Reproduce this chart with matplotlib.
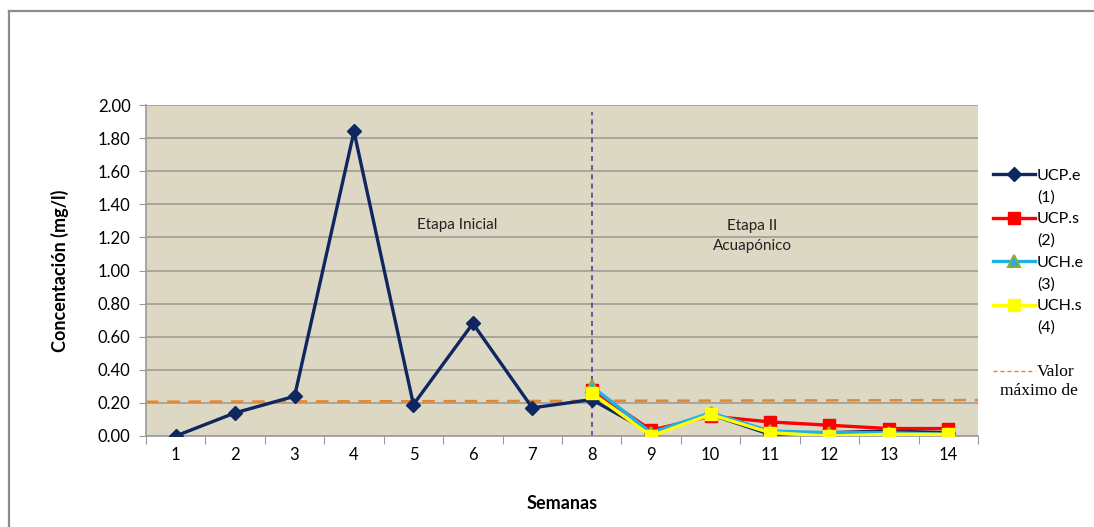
import numpy as np
import matplotlib.pyplot as plt
from matplotlib.lines import Line2D

plt.rcParams['font.family'] = ['Lato', 'DejaVu Sans']

semanas = list(range(1, 15))
ucp_e = [0.00, 0.14, 0.24, 1.84, 0.19, 0.68, 0.17, 0.22, 0.02, 0.13, 0.01, 0.02, 0.03, 0.02]
ucp_s = [None] * 7 + [0.28, 0.035, 0.12, 0.085, 0.065, 0.045, 0.045]
uch_e = [None] * 7 + [0.30, 0.02, 0.14, 0.03, 0.02, 0.02, 0.01]
uch_s = [None] * 7 + [0.26, 0.00, 0.13, 0.02, 0.00, 0.01, 0.01]
valor_max = [0.207, 0.217]
cambio_etapa = 8

fig = plt.figure(figsize=(10.94, 5.27), dpi=100)
ax = fig.add_axes([146 / 1094, 1 - 436 / 527, 832 / 1094, 331 / 527])
ax.set_facecolor('#ddd8c4')

# marco del grafico (solo borde superior e izquierdo a la vista)
x0, y0 = 8.5 / 1094, 1 - 11 / 527
fig.add_artist(Line2D([x0, 1.0], [y0, y0], transform=fig.transFigure,
                      color='#8c8c8c', lw=1.6))
fig.add_artist(Line2D([x0, x0], [0, y0], transform=fig.transFigure,
                      color='#8c8c8c', lw=1.6))

def serie(v):
    return np.array([np.nan if x is None else x for x in v], dtype=float)

h1, = ax.plot(semanas, serie(ucp_e), color='#0f2660', lw=2.4, marker='D', ms=7,
              zorder=3)
h2, = ax.plot(semanas, serie(ucp_s), color='#ff0000', lw=2.4, marker='s', ms=8,
              zorder=4)
h3, = ax.plot(semanas, serie(uch_e), color='#1cb2e8', lw=2.4, marker='^', ms=8,
              mfc='#1cb2e8', mec='#8faa3a', mew=1.5, zorder=5)
h4, = ax.plot(semanas, serie(uch_s), color='#ffff00', lw=2.4, marker='s', ms=8,
              zorder=6)
h5, = ax.plot([0.5, 14.5], valor_max, color='#e8862a', lw=1.8,
              ls=(0, (5, 3.5)), zorder=2)

ax.plot([cambio_etapa, cambio_etapa], [0, 1.96], color='#5a3c8c', lw=1.2,
        ls=(0, (3, 2.5)), zorder=2)

ax.text(5.74, 1.275, 'Etapa Inicial', ha='center', va='center', fontsize=11,
        color='#222222')
ax.text(10.7, 1.21, 'Etapa II\nAcuapónico', ha='center', va='center',
        fontsize=11, color='#222222', linespacing=1.55)

ax.set_xlim(0.5, 14.5)
ax.set_ylim(0, 2.0)
ax.set_yticks(np.arange(0, 2.01, 0.2))
ax.set_yticklabels([f'{v:.2f}' for v in np.arange(0, 2.01, 0.2)])
ax.set_xticks(np.arange(0.5, 14.6, 1))
ax.set_xticklabels([])
ax.set_xticks(semanas, minor=True)
ax.set_xticklabels([str(s) for s in semanas], minor=True)
ax.tick_params(axis='x', which='major', length=6, color='#9a9a9a')
ax.tick_params(axis='x', which='minor', length=0, pad=8, labelsize=12)
ax.tick_params(axis='y', length=5, color='#9a9a9a', labelsize=12, pad=6)
ax.grid(axis='y', color='#a09d96', lw=1.2)
ax.set_axisbelow(True)
for s in ['top', 'right']:
    ax.spines[s].set_visible(False)
for s in ['left', 'bottom']:
    ax.spines[s].set_color('#9a9a9a')
    ax.spines[s].set_linewidth(1.2)

ax.set_ylabel('Concentación (mg/l)', fontsize=13, fontweight='bold', labelpad=21)
ax.set_xlabel('Semanas', fontsize=13, fontweight='bold', labelpad=23)

# leyenda: cada serie ocupa dos renglones, el numero va en un renglon aparte
vacio = Line2D([], [], alpha=0)
h5_ley = Line2D([], [], color='#e8862a', lw=1.0, ls=(0, (3, 2)))
handles = [h1, vacio, h2, vacio, h3, vacio, h4, vacio, vacio, h5_ley]
labels = ['UCP.e', '(1)', 'UCP.s', '(2)', 'UCH.e', '(3)', 'UCH.s', '(4)', '',
          'Valor']
leg = ax.legend(handles, labels, loc='upper left',
                bbox_to_anchor=(1.018, 0.808), frameon=False, fontsize=11.5,
                handlelength=2.6, handletextpad=0.15, labelspacing=0.47,
                borderaxespad=0, borderpad=0)
t = leg.get_texts()[-1]
t.set_fontfamily('Liberation Serif')
t.set_fontsize(12.5)
fig.text(1000 / 1094, 1 - 391 / 527, 'máximo de', fontsize=12.5,
         family='Liberation Serif', va='center', ha='left')

fig.savefig('out.png', dpi=100)
